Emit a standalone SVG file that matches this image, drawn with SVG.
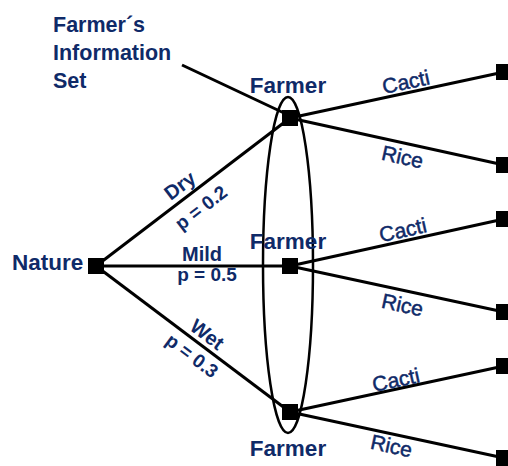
<svg xmlns="http://www.w3.org/2000/svg" width="508" height="466" viewBox="0 0 508 466">
<style>
.lbl{font-family:"Liberation Sans",Arial,sans-serif;font-weight:bold;font-size:22.5px;fill:#0f2a68}
.info{font-family:"Liberation Sans",Arial,sans-serif;font-weight:bold;font-size:21.5px;fill:#0f2a68}
.nm{font-family:"Liberation Sans",Arial,sans-serif;font-weight:bold;font-size:20px;fill:#0f2a68}
.prob{font-family:"Liberation Sans",Arial,sans-serif;font-weight:bold;font-size:19px;fill:#0f2a68}
.act{font-family:"Liberation Sans",Arial,sans-serif;font-size:21px;fill:#0f2a68;stroke:#0f2a68;stroke-width:0.5}
.edge{stroke:#000;stroke-width:3;fill:none}
.node{fill:#000}
</style>
<rect width="508" height="466" fill="#fff"/>
<g id="connectors">
  <line class="edge" x1="96" y1="266" x2="290" y2="118"/>
  <line class="edge" x1="96" y1="266" x2="290" y2="266"/>
  <line class="edge" x1="96" y1="266" x2="290" y2="412"/>
  <line class="edge" x1="290" y1="118" x2="504" y2="72"/>
  <line class="edge" x1="290" y1="118" x2="504" y2="165"/>
  <line class="edge" x1="290" y1="266" x2="504" y2="219"/>
  <line class="edge" x1="290" y1="266" x2="504" y2="312"/>
  <line class="edge" x1="290" y1="412" x2="504" y2="366"/>
  <line class="edge" x1="290" y1="412" x2="504" y2="458"/>
  <line class="edge" stroke-width="2.5" x1="182" y1="65" x2="284" y2="113"/>
</g>
<g id="infoset">
  <ellipse cx="288" cy="265" rx="25" ry="168" fill="none" stroke="#000" stroke-width="2.5"/>
  <text class="info" x="53" y="32">Farmer´s</text>
  <text class="info" x="53" y="60">Information</text>
  <text class="info" x="53" y="88">Set</text>
</g>
<g id="nature">
  <rect class="node" x="88" y="258" width="16" height="16"/>
  <text class="lbl" x="12" y="270">Nature</text>
</g>
<g id="farmer-dry">
  <rect class="node" x="282" y="110" width="16" height="16"/>
  <text class="lbl" x="288" y="93" text-anchor="middle">Farmer</text>
</g>
<g id="farmer-mild">
  <rect class="node" x="282" y="258" width="16" height="16"/>
  <text class="lbl" x="288" y="249" text-anchor="middle">Farmer</text>
</g>
<g id="farmer-wet">
  <rect class="node" x="282" y="404" width="16" height="16"/>
  <text class="lbl" x="288" y="456" text-anchor="middle">Farmer</text>
</g>
<g id="terminals">
  <rect class="node" x="496" y="64" width="16" height="16"/>
  <rect class="node" x="496" y="157" width="16" height="16"/>
  <rect class="node" x="496" y="211" width="16" height="16"/>
  <rect class="node" x="496" y="304" width="16" height="16"/>
  <rect class="node" x="496" y="358" width="16" height="16"/>
  <rect class="node" x="496" y="450" width="16" height="16"/>
</g>
<g id="labels">
  <text class="nm" x="184" y="191" text-anchor="middle" transform="rotate(-37.3 184 191)">Dry</text>
  <text class="prob" x="205" y="213" text-anchor="middle" transform="rotate(-37.3 205 213)">p = 0.2</text>
  <text class="nm" x="202" y="261" text-anchor="middle">Mild</text>
  <text class="prob" x="207" y="281" text-anchor="middle">p = 0.5</text>
  <text class="nm" x="203" y="340" text-anchor="middle" transform="rotate(37 203 340)">Wet</text>
  <text class="prob" x="188" y="361" text-anchor="middle" transform="rotate(37 188 361)">p = 0.3</text>
  <text class="act" x="407.5" y="89" text-anchor="middle" transform="rotate(-12.1 407.5 89)">Cacti</text>
  <text class="act" x="401" y="164" text-anchor="middle" transform="rotate(12.4 401 164)">Rice</text>
  <text class="act" x="404.5" y="237" text-anchor="middle" transform="rotate(-12.4 404.5 237)">Cacti</text>
  <text class="act" x="401" y="312" text-anchor="middle" transform="rotate(12.1 401 312)">Rice</text>
  <text class="act" x="397.5" y="387" text-anchor="middle" transform="rotate(-12.1 397.5 387)">Cacti</text>
  <text class="act" x="390" y="453" text-anchor="middle" transform="rotate(12.1 390 453)">Rice</text>
</g>
</svg>
